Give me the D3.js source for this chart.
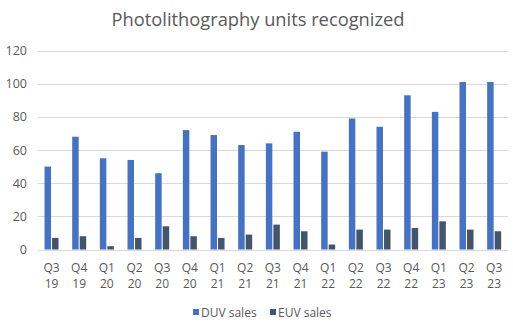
<!DOCTYPE html>
<html><head><meta charset="utf-8">
<script src="https://cdn.jsdelivr.net/npm/d3@7"></script>
<style>body{margin:0;background:#fff}svg{display:block}text{font-family:"Open Sans",sans-serif}</style>
</head><body>
<svg id="c" width="513" height="324"></svg>
<script>
const categories = ["Q3 19","Q4 19","Q1 20","Q2 20","Q3 20","Q4 20","Q1 21","Q2 21","Q3 21","Q4 21","Q1 22","Q2 22","Q3 22","Q4 22","Q1 23","Q2 23","Q3 23"];
const duvSales = [50,68,55,54,46,72,69,63,64,71,59,79,74,93,83,101,101];
const euvSales = [7,8,2,7,14,8,7,9,15,11,3,12,12,13,17,12,11];
const yTicks = [0,20,40,60,80,100,120];
const seriesNames = ["DUV sales","EUV sales"];
const colors = ["#4472C4","#44546A"];

const svg = d3.select("#c");
const m = {l:37.7, r:5, t:50.5, b:74.5};
const W = 513, H = 324;
const x = d3.scaleBand().domain(categories).range([m.l, W - m.r]).paddingInner(0).paddingOuter(0);
const y = d3.scaleLinear().domain([0,120]).range([H - m.b, m.t]);
const inner = d3.scaleBand().domain([0,1]).range([0,14]).paddingInner(0.14);
const gx0 = (x.bandwidth() - 14)/2;

svg.append("text").attr("x",258).attr("y",26).attr("text-anchor","middle")
  .attr("font-size",18.3).attr("fill","#595959").text("Photolithography units recognized");

// grid
svg.append("g").selectAll("line").data(yTicks).join("line")
  .attr("x1",m.l).attr("x2",W-m.r).attr("y1",d=>Math.round(y(d))+0.5).attr("y2",d=>Math.round(y(d))+0.5)
  .attr("stroke","#D9D9D9").attr("stroke-width",1);

// y axis labels
const yAxis = d3.axisLeft(y).tickValues(yTicks).tickSize(0).tickPadding(0);
const yg = svg.append("g").attr("transform",`translate(27,0)`).call(yAxis);
yg.select(".domain").remove();
yg.selectAll("text").attr("font-size",12.5).attr("fill","#595959").attr("font-family","Open Sans, sans-serif");

// bars
const series = [duvSales, euvSales];
series.forEach((vals,si)=>{
  svg.append("g").selectAll("rect").data(vals).join("rect")
    .attr("x",(d,i)=>x(categories[i]) + gx0 + inner(si))
    .attr("width",inner.bandwidth())
    .attr("y",d=>y(d)).attr("height",d=>y(0)-y(d))
    .attr("fill",colors[si]);
});

// x labels
const xAxis = d3.axisBottom(x).tickSize(0).tickPadding(0);
const xg = svg.append("g").attr("transform",`translate(0,${y(0)})`).call(xAxis);
xg.select(".domain").remove();
xg.selectAll(".tick text").each(function(d){
  const parts = d.split(" ");
  const t = d3.select(this).text(null).attr("font-size",12).attr("fill","#595959").attr("font-family","Open Sans, sans-serif").attr("y",0).attr("dy",null);
  t.append("tspan").attr("x",0).attr("y",22).text(parts[0]);
  t.append("tspan").attr("x",0).attr("y",38).text(parts[1]);
});

// legend
const lg = svg.append("g");
const lx = [193, 270];
seriesNames.forEach((n,i)=>{
  lg.append("rect").attr("x",lx[i]).attr("y",309).attr("width",6).attr("height",6).attr("fill",colors[i]);
  lg.append("text").attr("x",lx[i]+8).attr("y",317).attr("font-size",12).attr("fill","#595959").text(n);
});
</script>
</body></html>
